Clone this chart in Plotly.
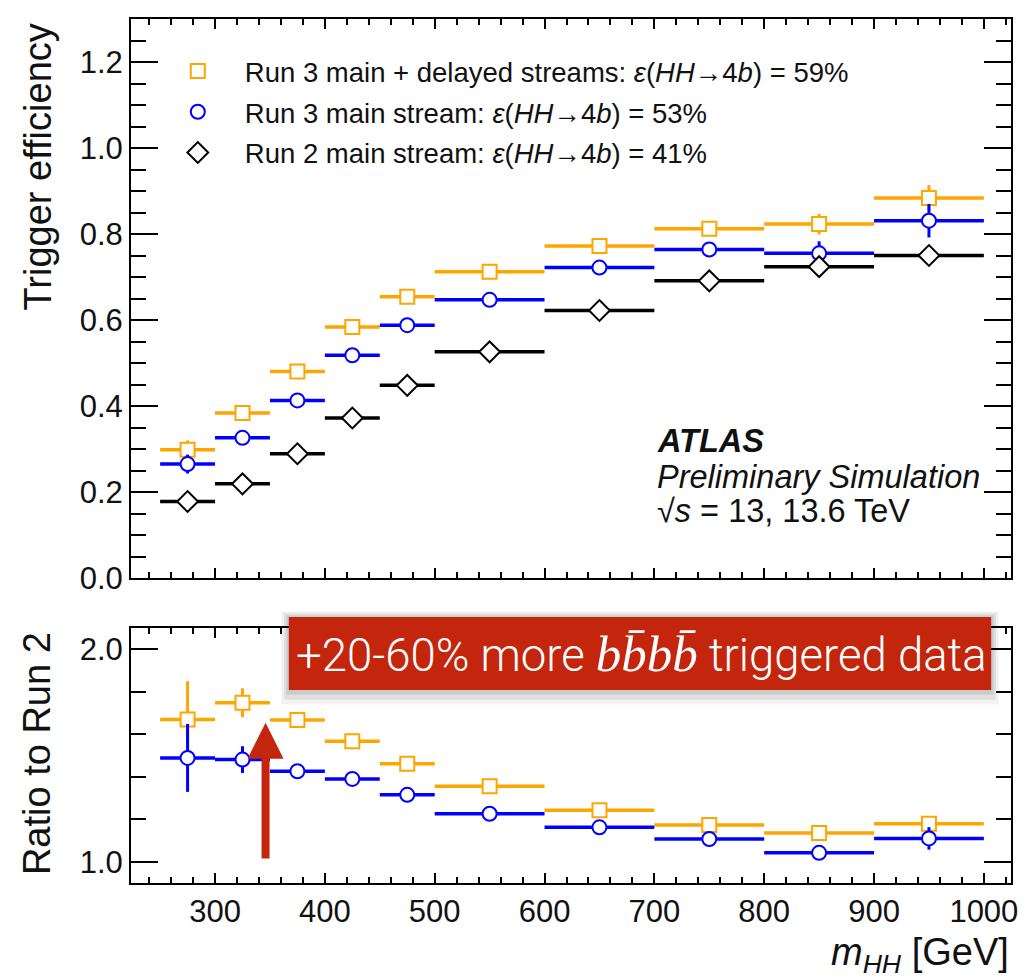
import plotly.graph_objects as go

# HH -> 4b trigger efficiency versus m_HH, per bin
bin_lo = [250, 300, 350, 400, 450, 500, 600, 700, 800, 900]
bin_hi = [300, 350, 400, 450, 500, 600, 700, 800, 900, 1000]

eff_run3_delayed = [0.298, 0.384, 0.480, 0.584, 0.654, 0.712, 0.772, 0.812, 0.823, 0.884]
eff_run3_main = [0.265, 0.326, 0.413, 0.518, 0.588, 0.647, 0.722, 0.764, 0.755, 0.831]
eff_run2 = [0.178, 0.219, 0.289, 0.372, 0.448, 0.526, 0.622, 0.691, 0.724, 0.750]

err_run3_delayed = [0.022, 0.012, 0.010, 0.010, 0.010, 0.010, 0.010, 0.012, 0.024, 0.030]
err_run3_main = [0.022, 0.010, 0.010, 0.010, 0.010, 0.010, 0.010, 0.012, 0.028, 0.039]
err_run2 = [0.010, 0.008, 0.008, 0.008, 0.008, 0.008, 0.008, 0.010, 0.012, 0.012]

# ratios to Run 2
ratio_run3_delayed = [1.670, 1.749, 1.667, 1.567, 1.461, 1.355, 1.242, 1.173, 1.135, 1.179]
ratio_run3_main = [1.489, 1.481, 1.426, 1.390, 1.315, 1.226, 1.162, 1.107, 1.042, 1.110]
ratio_err_run3_delayed = [0.180, 0.068, 0.020, 0.020, 0.020, 0.015, 0.015, 0.015, 0.020, 0.035]
ratio_err_run3_main = [0.160, 0.063, 0.020, 0.020, 0.015, 0.015, 0.015, 0.015, 0.030, 0.053]

legend_labels = [
    "Run 3 main + delayed streams: <i>ε</i>(<i>HH</i>→4<i>b</i>) = 59%",
    "Run 3 main stream: <i>ε</i>(<i>HH</i>→4<i>b</i>) = 53%",
    "Run 2 main stream: <i>ε</i>(<i>HH</i>→4<i>b</i>) = 41%",
]

ORANGE = "#FFA500"
BLUE = "#0000FF"
BLACK = "#000000"
RED = "#C3260C"
FONT = "Liberation Sans, Arial, Helvetica, sans-serif"

centers = [(lo + hi) / 2 for lo, hi in zip(bin_lo, bin_hi)]
half_w = [(hi - lo) / 2 for lo, hi in zip(bin_lo, bin_hi)]

fig = go.Figure()


def add_series(y, yerr, color, symbol, size, name, xa, ya, show, group):
    fig.add_trace(go.Scatter(
        x=centers, y=y, mode="markers", name=name,
        xaxis=xa, yaxis=ya, showlegend=show, legendgroup=group,
        marker=dict(symbol=symbol, size=size, color="white",
                    line=dict(color=color, width=2)),
        error_x=dict(type="data", array=half_w, color=color, thickness=3.5, width=0),
        error_y=dict(type="data", array=yerr, color=color, thickness=3, width=0),
    ))


add_series(eff_run3_delayed, err_run3_delayed, ORANGE, "square", 14, legend_labels[0], "x", "y", True, "a")
add_series(eff_run3_main, err_run3_main, BLUE, "circle", 14, legend_labels[1], "x", "y", True, "b")
add_series(eff_run2, err_run2, BLACK, "diamond", 16, legend_labels[2], "x", "y", True, "c")

add_series(ratio_run3_delayed, ratio_err_run3_delayed, ORANGE, "square", 14, "delayed", "x2", "y2", False, "a")
add_series(ratio_run3_main, ratio_err_run3_main, BLUE, "circle", 14, "main", "x2", "y2", False, "b")

X_RANGE = [223.5, 1024.7]

axis_common = dict(
    showline=True, linewidth=2, linecolor="black", mirror="allticks",
    ticks="inside", tickwidth=1.5, tickcolor="black", showgrid=False, zeroline=False,
    tickfont=dict(family=FONT, size=31, color="#111"),
)

fig.update_layout(
    width=1029, height=978,
    margin=dict(l=131, r=11, t=19, b=95),
    paper_bgcolor="white", plot_bgcolor="white",
    font=dict(family=FONT, color="#111"),
    xaxis=dict(domain=[0, 1], anchor="y", range=X_RANGE, showticklabels=False,
               tick0=0, dtick=100, ticklen=10,
               minor=dict(ticks="inside", dtick=20, ticklen=6, tickcolor="black"),
               matches="x2", **axis_common),
    yaxis=dict(domain=[0.353, 1], anchor="x", range=[0, 1.3],
               tick0=0, dtick=0.2, ticklen=27, tickformat=".1f",
               minor=dict(ticks="inside", dtick=0.05, ticklen=15, tickcolor="black"),
               **axis_common),
    xaxis2=dict(domain=[0, 1], anchor="y2", range=X_RANGE,
                tick0=0, dtick=100, ticklen=10,
                minor=dict(ticks="inside", dtick=20, ticklen=6, tickcolor="black"),
                **axis_common),
    yaxis2=dict(domain=[0, 0.295], anchor="x2", range=[0.9, 2.1],
                tick0=0, dtick=1, ticklen=27, tickformat=".1f",
                minor=dict(ticks="inside", dtick=0.2, ticklen=15, tickcolor="black"),
                **axis_common),
    legend=dict(x=0.0225, y=0.968, xanchor="left", yanchor="top",
                bgcolor="rgba(0,0,0,0)", font=dict(family=FONT, size=27.5, color="#111"),
                traceorder="grouped", tracegroupgap=2, itemwidth=84),
    showlegend=True,
)

annotations = [
    dict(text="Trigger efficiency", xref="paper", yref="paper", x=-0.106, y=0.829,
         xanchor="center", yanchor="middle",
         textangle=-90, showarrow=False, font=dict(family=FONT, size=38, color="#111")),
    dict(text="Ratio to Run 2", xref="paper", yref="paper", x=-0.106, y=0.150,
         xanchor="center", yanchor="middle",
         textangle=-90, showarrow=False, font=dict(family=FONT, size=38, color="#111")),
    dict(text="<i>m</i><sub><i>HH</i></sub> [GeV]", xref="paper", yref="paper",
         x=1.0, y=-0.083, xanchor="right", yanchor="middle", showarrow=False,
         font=dict(family=FONT, size=38, color="#111")),
    dict(text="<b><i>ATLAS</i></b>", xref="paper", yref="paper", x=0.596, y=0.512,
         xanchor="left", yanchor="middle", showarrow=False,
         font=dict(family=FONT, size=32.5, color="#111")),
    dict(text="<i>Preliminary Simulation</i>", xref="paper", yref="paper", x=0.596, y=0.470,
         xanchor="left", yanchor="middle", showarrow=False,
         font=dict(family=FONT, size=32.5, color="#111")),
    dict(text="√<i>s</i> = 13, 13.6 TeV", xref="paper", yref="paper", x=0.596, y=0.431,
         xanchor="left", yanchor="middle", showarrow=False,
         font=dict(family=FONT, size=32.5, color="#111")),
    dict(text="+20-60% more <span style='font-family:Liberation Serif, serif;font-size:51px'><i>bb̄bb̄</i></span> triggered data",
         xref="paper", yref="paper", x=0.580, y=0.265, xanchor="center", yanchor="middle",
         showarrow=False, font=dict(family="Roboto, Lato, sans-serif", size=45.5, color="white", weight=300)),
    dict(text=" ", x=346, y=1.655, xref="x2", yref="y2", ax=346, ay=0.975, axref="x2", ayref="y2",
         showarrow=True, arrowhead=2, arrowsize=0.9, arrowwidth=8, arrowcolor=RED),
]
fig.update_layout(annotations=annotations)

# red callout box with a soft drop shadow
box = dict(x0=0.1793, x1=0.9775, y0=0.2234, y1=0.3079)
shapes = []
for i, alpha in enumerate([0.05, 0.07, 0.09]):
    pad = (3 - i) * 0.0035
    shapes.append(dict(type="rect", xref="paper", yref="paper",
                       x0=box["x0"] - pad * 0.8, x1=box["x1"] + pad * 0.8,
                       y0=box["y0"] - pad * 1.6, y1=box["y1"] + pad * 0.6,
                       fillcolor=f"rgba(0,0,0,{alpha})", line=dict(width=0), layer="above"))
shapes.append(dict(type="rect", xref="paper", yref="paper", **box,
                   fillcolor=RED, line=dict(width=0), layer="above"))
fig.update_layout(shapes=shapes)

fig.write_html("out.html")
